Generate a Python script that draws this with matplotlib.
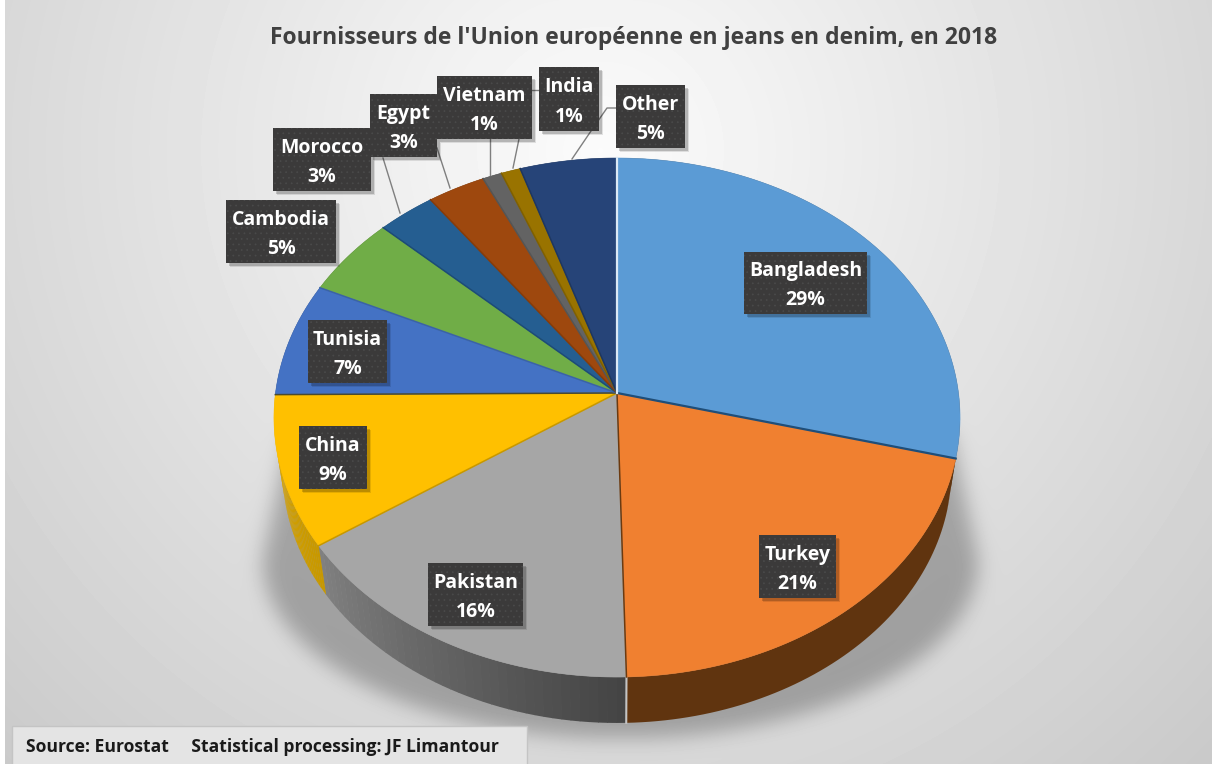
# plot.py
# Fake-3D pie of EU denim jeans suppliers, drawn as polygons on a pixel-sized axes.

import numpy as np
import matplotlib
matplotlib.use("Agg")
import matplotlib.pyplot as plt
from matplotlib.patches import Rectangle
from matplotlib.colors import to_rgb

countries = ["Bangladesh", "Turkey", "Pakistan", "China", "Tunisia", "Cambodia",
             "Morocco", "Egypt", "Vietnam", "India", "Other"]
shares = [29.0, 20.6, 15.9, 9.4, 7.1, 5.0, 3.0, 3.0, 1.0, 1.0, 5.0]
title = "Fournisseurs de l'Union européenne en jeans en denim, en 2018"
source = "Source: Eurostat     Statistical processing: JF Limantour"

top_colors = ["#5b9bd5", "#f08030", "#a6a6a6", "#ffc000", "#4472c4", "#70ad47",
              "#255e91", "#9e480e", "#636363", "#997300", "#264478"]
# colour of the spoke at the clockwise end of each slice
spoke_colors = ["#1f4e79", "#6b3a10", "#c79800", "#4a4a30", "#3a62a8", "#1d4c76",
                "#853c0b", "#555555", "#806000", "#1e3760", "#dbe9f6"]
side_start = ["#60340f", "#60340f", "#444444", "#c79800", "#333333", "#333333",
              "#333333", "#333333", "#333333", "#333333", "#333333"]
side_end = ["#60340f", "#60340f", "#808080", "#dfa800", "#333333", "#333333",
            "#333333", "#333333", "#333333", "#333333", "#333333"]

# label boxes: left, top, right, bottom in pixels
boxes = {
    "Bangladesh": (744, 252, 867, 314), "Turkey": (759, 535, 836, 598),
    "Pakistan": (428, 563, 523, 626), "China": (299, 426, 367, 489),
    "Tunisia": (308, 320, 387, 383), "Cambodia": (226, 200, 336, 263),
    "Morocco": (273, 128, 371, 191), "Egypt": (370, 94, 437, 157),
    "Vietnam": (437, 76, 532, 139), "India": (539, 67, 599, 131),
    "Other": (616, 85, 685, 148),
}
leaders = [
    [(383, 158), (400, 213)], [(437, 148), (450, 188)], [(490, 139), (490, 175)],
    [(519, 139), (513, 168)], [(532, 90), (539, 90)],
    [(616, 108), (607, 108), (591, 131), (572, 159)],
]

W, H = 1212, 764
CX, CY = 617, 393
AX, AY, K = 341.5, 257.2, 0.0945
DROP, LOWER = 53, 0.975


def project(theta, scale=1.0, dy=0.0):
    """Angle clockwise from 12 o'clock to pixel position on the tilted disc."""
    u, v = np.sin(theta), np.cos(theta)
    w = 1 + K * v
    return CX + scale * AX * u / w, CY + dy - scale * AY * v / w


def blur(img, sigma):
    fy = np.fft.fftfreq(img.shape[0])[:, None]
    fx = np.fft.rfftfreq(img.shape[1])[None, :]
    g = np.exp(-2 * (np.pi * sigma) ** 2 * (fx ** 2 + fy ** 2))
    return np.fft.irfft2(np.fft.rfft2(img) * g, s=img.shape)


# background: soft radial grey plus the floor shadow under the pie
yy, xx = np.mgrid[0:H, 0:W]
r = np.hypot((xx - 600) / 640, (yy - 150) / 640)
back = np.clip(0.985 - 0.145 * r, 0, 1)

half = np.where(yy < 560, 330 + (yy - 430) / 130 * 28,
                358 * np.sqrt(np.clip(1 - ((yy - 560) / 178.0) ** 2, 0, 1)))
mask = ((np.abs(xx - 620) < half) & (yy > 430)).astype(float)
shadow = blur(mask, 10) * 0.27
back = back * (1 - shadow)
back[:, :5] = 1.0

fig = plt.figure(figsize=(W / 100, H / 100), dpi=100)
ax = fig.add_axes([0, 0, 1, 1])
ax.imshow(back, cmap="gray", vmin=0, vmax=1, extent=(0, W, H, 0), aspect="auto", zorder=0)
ax.set_xlim(0, W)
ax.set_ylim(H, 0)
ax.axis("off")

bounds = np.cumsum([0] + shares) / sum(shares) * 2 * np.pi

# outer wall first, the top face then hides everything that faces away
for i in range(len(shares)):
    c0, c1 = np.array(to_rgb(side_start[i])), np.array(to_rgb(side_end[i]))
    n = 40 if side_start[i] != side_end[i] else 1
    edges = np.linspace(bounds[i], bounds[i + 1], n + 1)
    for j in range(n):
        t = np.linspace(edges[j], edges[j + 1] + 0.002 * (n > 1), 60 // n + 2)
        x1, y1 = project(t)
        x2, y2 = project(t[::-1], LOWER, DROP)
        col = c0 + (c1 - c0) * j / max(n - 1, 1)
        ax.fill(np.r_[x1, x2], np.r_[y1, y2], color=col, lw=0, zorder=2)

# pale seam between Pakistan and Turkey on the wall
xa, ya = project(bounds[2])
xb, yb = project(bounds[2], LOWER, DROP)
ax.plot([xa, xb], [ya, yb], color="#c4c4c4", lw=1.5, zorder=3)

for i in range(len(shares)):
    t = np.linspace(bounds[i], bounds[i + 1], 120)
    x, y = project(t)
    ax.fill(np.r_[CX, x], np.r_[CY, y], facecolor=top_colors[i],
            edgecolor=top_colors[i], lw=0.4, zorder=4)

for i in range(len(shares)):
    xa, ya = project(bounds[i + 1])
    lw = 1.6 if i in (0, 10) else 1.1
    ax.plot([CX, xa], [CY, ya], color=spoke_colors[i], lw=lw, zorder=5)

for pts in leaders:
    ax.plot([p[0] for p in pts], [p[1] for p in pts], color="#7f7f7f", lw=1.0, zorder=6)

font = ["Open Sans", "DejaVu Sans"]
plt.rcParams["hatch.linewidth"] = 0.5
for name, share in zip(countries, shares):
    x0, y0, x1, y1 = boxes[name]
    for off, a in [(4, 0.10), (2.5, 0.18)]:
        ax.add_patch(Rectangle((x0 + off, y0 + off), x1 - x0, y1 - y0, color="black",
                               alpha=a, lw=0, zorder=7))
    ax.add_patch(Rectangle((x0, y0), x1 - x0, y1 - y0, facecolor="#3b3a3a",
                           edgecolor="#4a4a4a", hatch="...", lw=0, zorder=8))
    h = y1 - y0
    ax.text((x0 + x1) / 2, y0 + h * 0.29 + 1.5, name, color="white", family=font,
            weight="bold", fontsize=14, ha="center", va="center", zorder=9)
    ax.text((x0 + x1) / 2, y0 + h * 0.76 + 1, f"{round(share)}%", color="white", family=font,
            weight="bold", fontsize=14, ha="center", va="center", zorder=9)

ax.text(634, 38, title, color="#404040", family=font, weight="bold", fontsize=16.5,
        ha="center", va="center", zorder=9)

ax.add_patch(Rectangle((12, 726), 515, 40, facecolor="#e4e4e4", edgecolor="#c4c4c4",
                       lw=1, zorder=7))
ax.text(26, 747, source, color="#1a1a1a", family=font, weight="bold", fontsize=12.6,
        ha="left", va="center", zorder=9)

fig.savefig("out.png", dpi=100)
